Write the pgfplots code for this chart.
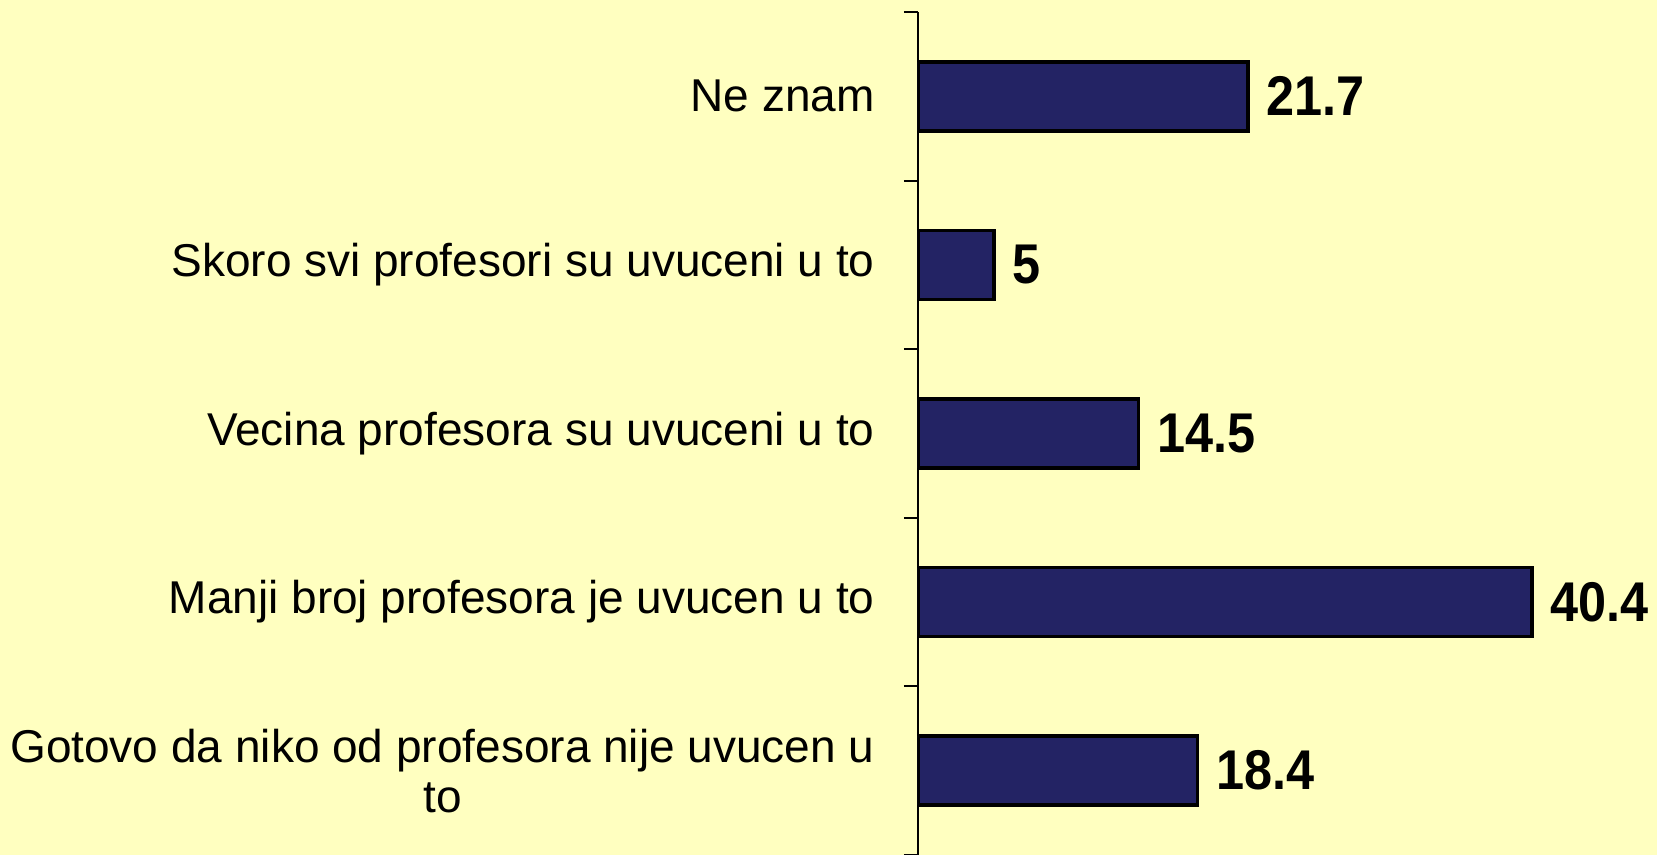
\documentclass[border=0pt]{standalone}
\usepackage{fontspec}
\setmainfont{Liberation Sans}
\usepackage{pgfplots}
\pgfplotsset{compat=1.18}
\definecolor{bg}{RGB}{255,255,192}
\definecolor{barc}{RGB}{35,35,100}
\begin{document}
\begin{tikzpicture}
\path[use as bounding box, fill=bg] (-459pt,0pt) rectangle (369.5pt,427.5pt);
\begin{axis}[
 at={(0pt,0pt)}, anchor=south west,
 scale only axis, width=342pt, height=421.5pt,
 xbar, bar width=34.5pt,
 xmin=0, xmax=45,
 ymin=-0.5, ymax=4.5,
 axis x line=none,
 axis y line*=left,
 ytick={0,1,2,3,4},
 yticklabels={{Gotovo da niko od profesora nije uvucen u\\to},{Manji broj profesora je uvucen u to},{Vecina profesora su uvuceni u to},{Skoro svi profesori su uvuceni u to},{Ne znam}},
 minor ytick={-0.5,0.5,1.5,2.5,3.5,4.5},
 tick align=outside,
 major tick length=0pt,
 minor tick length=7pt,
 every tick/.style={black, line width=1pt},
 axis line style={black, line width=1pt},
 yticklabel style={font=\fontsize{23}{25}\selectfont, align=center, inner sep=0pt, xshift=-21.5pt},
 nodes near coords,
 /pgf/number format/assume math mode=true,
 nodes near coords style={font=\bfseries\fontsize{28}{30}\selectfont, anchor=west, inner sep=0pt, xshift=8.5pt, xscale=0.9, text=black},
]
\addplot[fill=barc, draw=black, line width=1.8pt] coordinates {(18.4,0) (40.4,1) (14.5,2) (5,3) (21.7,4)};
\end{axis}
\end{tikzpicture}
\end{document}
